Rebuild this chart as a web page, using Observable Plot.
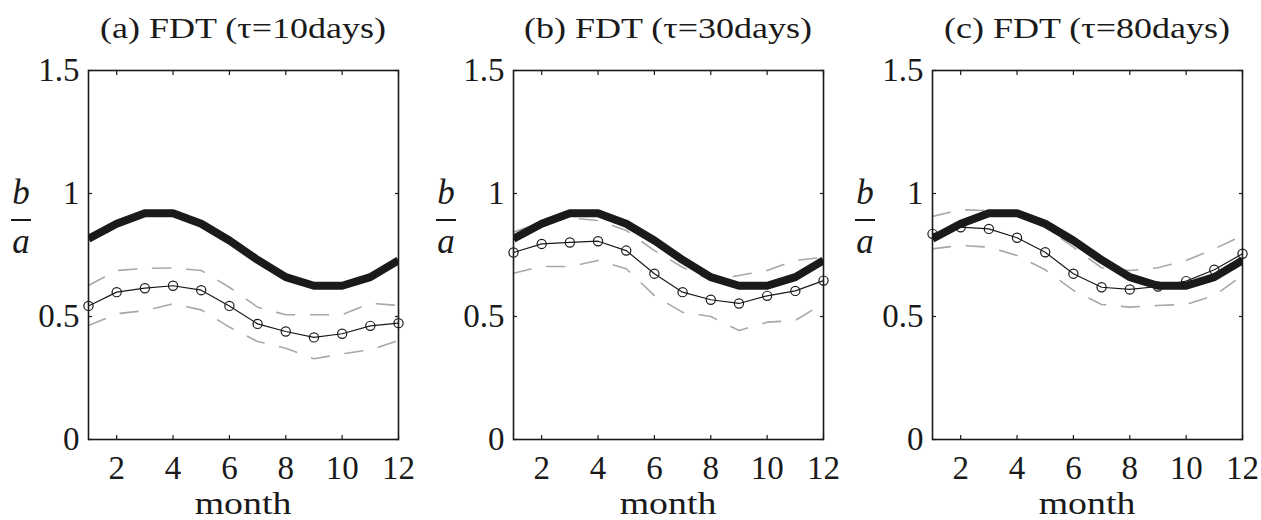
<!DOCTYPE html>
<html>
<head>
<meta charset="utf-8">
<script src="https://cdn.jsdelivr.net/npm/d3@7"></script>
<script src="https://cdn.jsdelivr.net/npm/@observablehq/plot@0.6"></script>
<style>
  body { margin: 0; background: #fff; overflow: hidden; }
  #root { position: relative; width: 1261px; height: 520px; font-family: "Liberation Serif", serif; color: #1a1a1a; }
  .panel { position: absolute; top: 0; }
  .title { position: absolute; top: 13px; font-size: 30px; line-height: 30px; white-space: nowrap; transform: translateX(-50%) scaleX(1.2); }
  .xlabel { position: absolute; top: 488px; font-size: 31px; line-height: 31px; white-space: nowrap; transform: translateX(-50%) scaleX(1.22); }
  .frac { position: absolute; font-size: 35px; line-height: 35px; font-style: italic; transform: translateX(-50%); }
  .bar { position: absolute; height: 0; border-top: 2px solid #1a1a1a; }
</style>
</head>
<body>
<div id="root"></div>
<script>
const months = [1, 2, 3, 4, 5, 6, 7, 8, 9, 10, 11, 12];
const xTicks = [2, 4, 6, 8, 10, 12];
const yTicks = [0, 0.5, 1, 1.5];
const yTickLabels = ["0", "0.5", "1", "1.5"];

// thick reference curve (same in every panel)
const observed = [0.816, 0.877, 0.920, 0.920, 0.877, 0.809, 0.730, 0.660, 0.625, 0.625, 0.660, 0.728];

// (a) tau = 10 days
const fdt10 = [0.543, 0.599, 0.615, 0.625, 0.607, 0.543, 0.470, 0.439, 0.415, 0.430, 0.462, 0.473];
const fdt10Upper = [0.626, 0.687, 0.696, 0.697, 0.687, 0.619, 0.538, 0.507, 0.507, 0.507, 0.554, 0.545];
const fdt10Lower = [0.463, 0.511, 0.524, 0.552, 0.527, 0.457, 0.398, 0.371, 0.328, 0.348, 0.365, 0.402];

// (b) tau = 30 days
const fdt30 = [0.760, 0.795, 0.801, 0.806, 0.768, 0.674, 0.599, 0.568, 0.553, 0.584, 0.604, 0.646];
const fdt30Upper = [0.843, 0.883, 0.901, 0.890, 0.850, 0.768, 0.700, 0.646, 0.667, 0.687, 0.728, 0.741];
const fdt30Lower = [0.676, 0.703, 0.703, 0.728, 0.694, 0.585, 0.517, 0.500, 0.443, 0.477, 0.484, 0.554];

// (c) tau = 80 days
const fdt80 = [0.836, 0.863, 0.856, 0.820, 0.761, 0.674, 0.619, 0.610, 0.622, 0.644, 0.690, 0.755];
const fdt80Upper = [0.907, 0.934, 0.930, 0.911, 0.863, 0.782, 0.698, 0.687, 0.698, 0.728, 0.775, 0.829];
const fdt80Lower = [0.775, 0.789, 0.782, 0.748, 0.690, 0.606, 0.549, 0.538, 0.545, 0.549, 0.585, 0.667];

const titles = ["(a) FDT (\u03C4=10days)", "(b) FDT (\u03C4=30days)", "(c) FDT (\u03C4=80days)"];
const series = [[fdt10, fdt10Upper, fdt10Lower], [fdt30, fdt30Upper, fdt30Lower], [fdt80, fdt80Upper, fdt80Lower]];
const offsets = [0, 425, 844];

const root = document.getElementById("root");
const W = 418, H = 520, ML = 88, MR = 20, MT = 70, MB = 81;
const ink = "#1a1a1a";

series.forEach(([mid, up, lo], p) => {
  const rows = months.map((m, i) => ({month: m, obs: observed[i], mid: mid[i], up: up[i], lo: lo[i]}));
  const chart = Plot.plot({
    width: W, height: H,
    marginLeft: ML, marginRight: MR, marginTop: MT, marginBottom: MB,
    x: {domain: [1, 12]},
    y: {domain: [0, 1.5]},
    style: {fontFamily: "Liberation Serif, serif", fontSize: "33px", color: ink, background: "transparent", overflow: "visible"},
    marks: [
      Plot.line(rows, {x: "month", y: "up", stroke: "#a8a8a8", strokeWidth: 1.6, strokeDasharray: "18,16", clip: "frame"}),
      Plot.line(rows, {x: "month", y: "lo", stroke: "#a8a8a8", strokeWidth: 1.6, strokeDasharray: "18,16", clip: "frame"}),
      Plot.line(rows, {x: "month", y: "obs", stroke: ink, strokeWidth: 8, strokeLinecap: "butt", clip: "frame"}),
      Plot.line(rows, {x: "month", y: "mid", stroke: ink, strokeWidth: 1.2}),
      Plot.dot(rows, {x: "month", y: "mid", r: 4.6, stroke: ink, fill: "none", strokeWidth: 1.2}),
      Plot.frame({stroke: ink, strokeWidth: 1.6}),
      Plot.axisX({anchor: "bottom", ticks: xTicks, tickSize: 0, tickPadding: 16, label: null, tickFormat: d => String(d)}),
      Plot.axisY({anchor: "left", ticks: yTicks, tickSize: 0, tickPadding: 9, label: null, tickFormat: d => yTickLabels[yTicks.indexOf(d)]}),
      Plot.axisX({anchor: "bottom", ticks: xTicks, tickSize: -4, fill: "none", label: null, strokeWidth: 1.2}),
      Plot.axisX({anchor: "top", ticks: xTicks, tickSize: -4, fill: "none", label: null, strokeWidth: 1.2}),
      Plot.axisY({anchor: "left", ticks: yTicks, tickSize: -4, fill: "none", label: null, strokeWidth: 1.2}),
      Plot.axisY({anchor: "right", ticks: yTicks, tickSize: -4, fill: "none", label: null, strokeWidth: 1.2})
    ]
  });
  chart.classList.add("panel");
  chart.style.left = offsets[p] + "px";
  root.appendChild(chart);

  const cx = offsets[p] + ML + (W - ML - MR) / 2;
  const t = document.createElement("div");
  t.className = "title";
  t.style.left = cx + "px";
  t.textContent = titles[p];
  root.appendChild(t);

  const xl = document.createElement("div");
  xl.className = "xlabel";
  xl.style.left = cx + "px";
  xl.textContent = "month";
  root.appendChild(xl);

  const b = document.createElement("div");
  b.className = "frac";
  b.style.left = (offsets[p] + 21) + "px";
  b.style.top = "175px";
  b.textContent = "b";
  root.appendChild(b);

  const bar = document.createElement("div");
  bar.className = "bar";
  bar.style.left = (offsets[p] + 11) + "px";
  bar.style.width = "20px";
  bar.style.top = "219px";
  root.appendChild(bar);

  const a = document.createElement("div");
  a.className = "frac";
  a.style.left = (offsets[p] + 21) + "px";
  a.style.top = "224px";
  a.textContent = "a";
  root.appendChild(a);
});
</script>
</body>
</html>
